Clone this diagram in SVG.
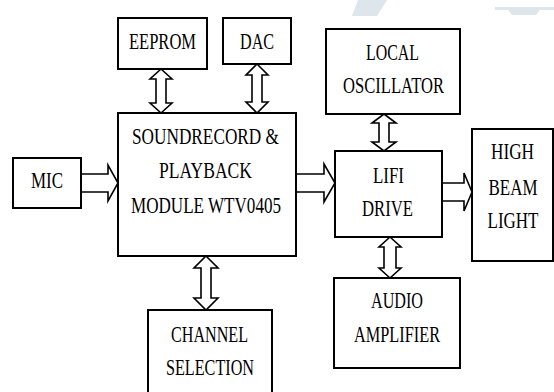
<svg xmlns="http://www.w3.org/2000/svg" width="554" height="392" viewBox="0 0 554 392">
<style>
.box{fill:#fff;stroke:#000;stroke-width:2}
.arr{fill:#fff;stroke:#000;stroke-width:1.6;stroke-linejoin:miter}
text{font-family:'Liberation Serif','DejaVu Serif',serif;font-size:24px;fill:#000;text-anchor:middle}
.wm{fill:#dfe6eb}
</style>
<rect width="554" height="392" fill="#fff"/>
<g id="watermark">
<polygon class="wm" points="358,0 387,0 377,16 352,16"/>
<polygon class="wm" points="495,7 554,7 554,10 540,10 536,15 512,15 508,10 495,10"/>
</g>
<g id="connectors">
<path class="arr" d="M161,69 L172,79 L166,79 L166,103 L172,103 L161,113 L150,103 L156,103 L156,79 L150,79 Z"/>
<path class="arr" d="M257,64 L268,75 L262,75 L262,102 L268,102 L257,113 L246,102 L252,102 L252,75 L246,75 Z"/>
<path class="arr" d="M206,256 L218,268 L211,268 L211,298 L218,298 L206,310 L194,298 L201,298 L201,268 L194,268 Z"/>
<path class="arr" d="M384,114 L396,123 L389,123 L389,142 L396,142 L384,151 L372,142 L379,142 L379,123 L372,123 Z"/>
<path class="arr" d="M390,237 L401,247 L396,247 L396,268 L401,268 L390,278 L379,268 L384,268 L384,247 L379,247 Z"/>
<path class="arr" d="M81,174 L108,174 L108,165 L118,183 L108,201 L108,192 L81,192 Z"/>
<path class="arr" d="M296,174 L324,174 L324,164 L335,183 L324,202 L324,192 L296,192 Z"/>
<path class="arr" d="M442,183 L464,183 L464,173 L472,192 L464,211 L464,201 L442,201 Z"/>
</g>
<g id="eeprom">
<rect class="box" x="118" y="18" width="89" height="51"/>
<text x="162.5" y="49" textLength="67" lengthAdjust="spacingAndGlyphs">EEPROM</text>
</g>
<g id="dac">
<rect class="box" x="223" y="18" width="68" height="46"/>
<text x="257" y="49" textLength="34" lengthAdjust="spacingAndGlyphs">DAC</text>
</g>
<g id="module">
<rect class="box" x="118" y="113" width="178" height="143"/>
<text x="205.5" y="144" textLength="147" lengthAdjust="spacingAndGlyphs">SOUNDRECORD &amp;</text>
<text x="205.5" y="178" textLength="93" lengthAdjust="spacingAndGlyphs">PLAYBACK</text>
<text x="206" y="213" textLength="150" lengthAdjust="spacingAndGlyphs">MODULE WTV0405</text>
</g>
<g id="mic">
<rect class="box" x="13" y="158" width="68" height="50"/>
<text x="47" y="188" textLength="32" lengthAdjust="spacingAndGlyphs">MIC</text>
</g>
<g id="channel">
<rect class="box" x="148" y="310" width="124" height="90"/>
<text x="209.5" y="342" textLength="77" lengthAdjust="spacingAndGlyphs">CHANNEL</text>
<text x="210" y="375" textLength="88" lengthAdjust="spacingAndGlyphs">SELECTION</text>
</g>
<g id="oscillator">
<rect class="box" x="326" y="29" width="134" height="85"/>
<text x="392.5" y="60" textLength="53" lengthAdjust="spacingAndGlyphs">LOCAL</text>
<text x="393.5" y="93" textLength="101" lengthAdjust="spacingAndGlyphs">OSCILLATOR</text>
</g>
<g id="lifi">
<rect class="box" x="335" y="151" width="107" height="86"/>
<text x="388.5" y="183" textLength="31" lengthAdjust="spacingAndGlyphs">LIFI</text>
<text x="387.5" y="216" textLength="51" lengthAdjust="spacingAndGlyphs">DRIVE</text>
</g>
<g id="highbeam">
<rect class="box" x="472" y="129" width="81" height="132"/>
<text x="512.5" y="159" textLength="43" lengthAdjust="spacingAndGlyphs">HIGH</text>
<text x="513" y="195" textLength="49" lengthAdjust="spacingAndGlyphs">BEAM</text>
<text x="513" y="228" textLength="51" lengthAdjust="spacingAndGlyphs">LIGHT</text>
</g>
<g id="amplifier">
<rect class="box" x="334" y="278" width="126" height="90"/>
<text x="397" y="308" textLength="52" lengthAdjust="spacingAndGlyphs">AUDIO</text>
<text x="397" y="342" textLength="86" lengthAdjust="spacingAndGlyphs">AMPLIFIER</text>
</g>
</svg>
